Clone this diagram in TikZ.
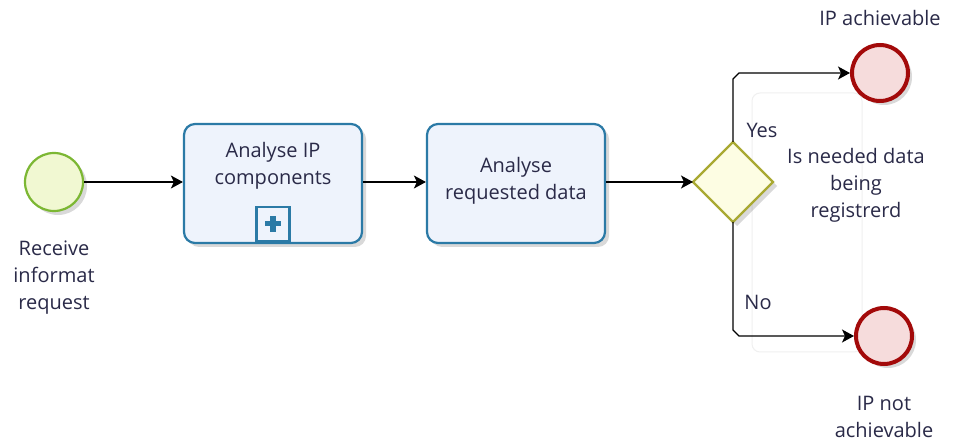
\documentclass[tikz,border=0pt]{standalone}
\usepackage{fontspec}
\setmainfont{Open Sans}
\usetikzlibrary{arrows.meta,shadows,calc}
\definecolor{taskline}{HTML}{2B7AA6}
\definecolor{taskfill}{HTML}{EEF3FC}
\definecolor{startline}{HTML}{7CB733}
\definecolor{startfill}{HTML}{F1F8D2}
\definecolor{endline}{HTML}{A30A0A}
\definecolor{endfill}{HTML}{F6DCDC}
\definecolor{gateline}{HTML}{A9A932}
\definecolor{gatefill}{HTML}{FDFDE3}
\definecolor{txt}{HTML}{2A2A48}
\tikzset{
  x=1pt, y=-1pt,
  every node/.style={font=\fontsize{20}{27}\selectfont, text=txt},
  softshadow/.style={drop shadow={shadow xshift=4pt, shadow yshift=-4pt, opacity=0.15, fill=black}},
  task/.style={draw=taskline, line width=2.2pt, fill=taskfill, rounded corners=11pt,
    minimum width=178pt, minimum height=119pt, align=center, softshadow},
  startev/.style={circle, draw=startline, line width=2.2pt, fill=startfill, minimum size=58pt, softshadow},
  endev/.style={circle, draw=endline, line width=4pt, fill=endfill, minimum size=56pt, softshadow},
  gate/.style={draw=gateline, line width=2.2pt, fill=gatefill, softshadow},
  flow/.style={draw=black, line width=1.2pt, -{Stealth[length=12pt,width=13pt,inset=3pt]}},
  lbl/.style={align=center, inner sep=0pt},
}
\begin{document}
\begin{tikzpicture}
\useasboundingbox (0,0) rectangle (953,443);
\fill[white] (0,0) rectangle (953,443);

% faint frame behind the gateway label
\draw[black!6, line width=1pt, rounded corners=8pt] (752,93) rectangle (862,352);

% start event
\node[startev] (start) at (54,182) {};
\node[lbl] (startlbl) at (54,278) {Receive\\informat\\request};

% tasks
\node[task] (t1) at (273,183.5) {};
\node[lbl] (t1lbl) at (273,166) {Analyse IP\\components};
\node[draw=taskline, line width=2.2pt, fill=taskfill, minimum width=33pt, minimum height=34pt, inner sep=0pt, anchor=south] (sub) at (273,242) {};
\fill[taskline] ($(sub.center)+(-8,-2.6)$) rectangle ($(sub.center)+(8,2.6)$);
\fill[taskline] ($(sub.center)+(-2.6,-8)$) rectangle ($(sub.center)+(2.6,8)$);

\node[task] (t2) at (516,183.5) {};
\node[lbl] (t2lbl) at (516,181) {Analyse\\requested data};

% gateway
\draw[gate] (693,182) -- (733,142) -- (773,182) -- (733,222) -- cycle;
\coordinate (gw) at (693,182);
\coordinate (gn) at (733,142);
\coordinate (gs) at (733,222);
\node[lbl] (gatelbl) at (856,185) {Is needed data\\being\\registrerd};

% end events
\node[endev] (endyes) at (880,73) {};
\node[lbl] (yeslbl) at (880,18) {IP achievable};
\node[endev] (endno) at (884,336) {};
\node[lbl] (nolbl) at (884,417) {IP not\\achievable};

% sequence flows
\draw[flow] (start.east) -- (t1.west |- start.east);
\draw[flow] (t1.east |- start.east) -- (t2.west |- start.east);
\draw[flow] (t2.east |- start.east) -- (gw);
\draw[flow] (gn) -- (733,79) -- (739,73) -- (endyes.west);
\draw[flow] (gs) -- (733,330) -- (739,336) -- (endno.west);

\node[lbl] (yes) at (762,130) {Yes};
\node[lbl] (no) at (758,302) {No};
\end{tikzpicture}
\end{document}
